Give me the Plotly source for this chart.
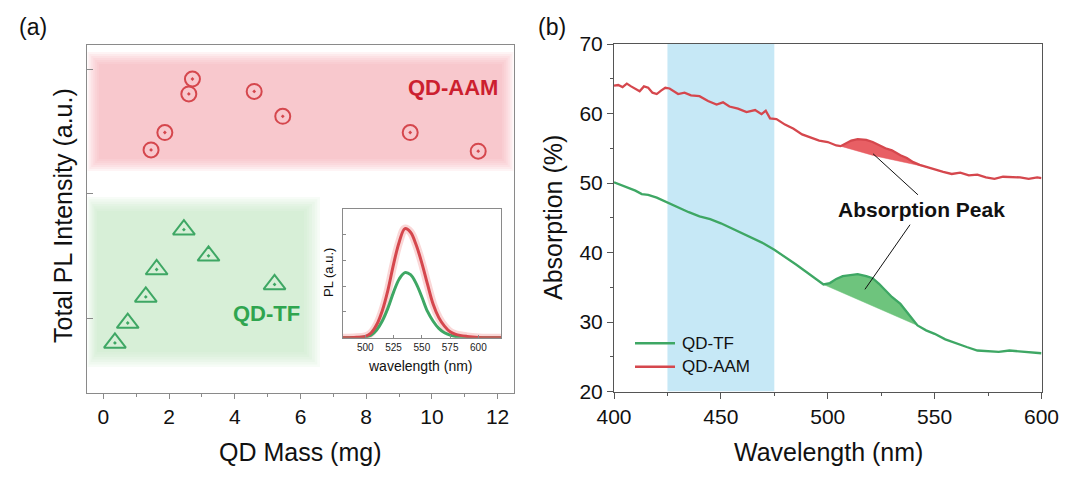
import plotly.graph_objects as go

# ---------------- data ----------------
# Panel (a): total PL intensity vs QD mass
tf_mass = [0.35, 0.74, 1.29, 1.62, 2.45, 3.20, 5.21]
tf_pl = [0.80, 0.96, 1.17, 1.39, 1.71, 1.50, 1.27]
aam_mass = [1.45, 1.87, 2.60, 2.71, 4.59, 5.46, 9.34, 11.41]
aam_pl = [2.35, 2.49, 2.80, 2.92, 2.82, 2.62, 2.49, 2.34]

# Inset: PL spectra
pl_wl = [480, 490, 500, 505, 510, 515, 520, 525, 530, 535, 540, 545, 550, 555, 560,
         565, 570, 575, 580, 590, 600, 610, 620]
pl_aam = [0.0, 0.01, 0.05, 0.18, 0.50, 1.05, 1.85, 2.86, 3.72, 4.24, 4.10, 3.60, 2.90,
          2.08, 1.30, 0.78, 0.45, 0.23, 0.13, 0.05, 0.01, 0.0, 0.0]
pl_tf = [0.0, 0.01, 0.03, 0.10, 0.30, 0.65, 1.15, 1.77, 2.28, 2.53, 2.45, 2.10, 1.58,
         1.02, 0.64, 0.36, 0.19, 0.10, 0.05, 0.01, 0.0, 0.0, 0.0]

# Panel (b): absorption spectra
aam_wl = [400, 402, 404, 406, 408, 410, 412, 414, 416, 418, 420, 422, 424, 426, 428, 430,
          433, 436, 440, 444, 448, 451, 454, 458, 462, 466, 469, 471, 473, 476, 480, 484,
          488, 492, 496, 500, 504, 506, 508, 511, 514, 518, 521, 524, 527, 530, 534, 537,
          540, 543, 546, 550, 554, 558, 562, 566, 570, 574, 578, 582, 586, 590, 594, 598, 600]
aam_abs = [64.0, 64.1, 63.8, 64.3, 63.9, 63.6, 63.2, 63.9, 63.7, 63.0, 62.8, 63.3, 63.7,
           63.6, 63.2, 62.8, 63.0, 62.6, 62.5, 61.8, 61.3, 61.6, 61.0, 60.7, 60.2, 60.5,
           59.9, 60.4, 59.3, 59.2, 58.4, 57.8, 57.0, 56.6, 56.1, 55.9, 55.4, 55.3, 55.6,
           56.1, 56.3, 56.2, 55.9, 55.4, 55.0, 54.7, 54.0, 53.6, 53.0, 52.6, 52.3, 51.9,
           51.6, 51.3, 51.5, 51.1, 51.2, 50.8, 50.6, 50.9, 50.9, 50.8, 50.6, 50.8, 50.7]
tf_wl = [400, 405, 410, 413, 416, 420, 425, 430, 435, 440, 445, 450, 455, 460, 465, 470,
         475, 480, 485, 490, 495, 498, 501, 504, 507, 510, 514, 518, 521, 524, 527, 530,
         534, 538, 542, 546, 550, 555, 560, 565, 570, 575, 580, 585, 590, 595, 600]
tf_abs = [50.1, 49.5, 48.9, 48.4, 48.3, 47.9, 47.2, 46.4, 45.8, 45.2, 44.8, 44.2, 43.5,
          42.8, 42.1, 41.3, 40.4, 39.4, 38.3, 37.2, 36.1, 35.4, 35.6, 36.2, 36.6, 36.7,
          36.9, 36.6, 36.3, 35.5, 34.6, 33.6, 32.6, 31.0, 29.5, 28.8, 28.3, 27.5, 26.9,
          26.4, 25.9, 25.8, 25.7, 25.9, 25.8, 25.6, 25.5]
# baselines beneath the absorption peaks
aam_base_wl = [546, 522, 506]
aam_base_abs = [52.3, 53.9, 55.3]
tf_base_wl = [542, 498]
tf_base_abs = [29.5, 35.4]
aam_peak_range = (506, 546)
tf_peak_range = (498, 542)
blue_band = (425, 475)

# ---------------- styles ----------------
FONT = "Liberation Sans, Arial, sans-serif"
RED = "#d5474d"
GREEN = "#3ea764"
RED_TXT = "#cc1f2f"
GREEN_TXT = "#2fa54f"
W, H = 1080, 479

fig = go.Figure()

# ---- panel (a) traces
fig.add_trace(go.Scatter(x=aam_mass, y=aam_pl, mode="markers", xaxis="x", yaxis="y",
                         marker=dict(symbol="circle-open-dot", size=15, color=RED,
                                     line=dict(width=2, color=RED)), showlegend=False))
fig.add_trace(go.Scatter(x=tf_mass, y=tf_pl, mode="markers", xaxis="x", yaxis="y",
                         marker=dict(symbol="triangle-up-open-dot", size=19, color=GREEN,
                                     line=dict(width=2, color=GREEN)), showlegend=False))

# ---- inset traces
fig.add_trace(go.Scatter(x=pl_wl, y=pl_aam, mode="lines", xaxis="x3", yaxis="y3",
                         line=dict(color="rgba(240,140,140,0.35)", width=8, shape="spline"),
                         showlegend=False, hoverinfo="skip"))
fig.add_trace(go.Scatter(x=pl_wl, y=pl_tf, mode="lines", xaxis="x3", yaxis="y3",
                         line=dict(color=GREEN, width=3, shape="spline"), showlegend=False))
fig.add_trace(go.Scatter(x=pl_wl, y=pl_aam, mode="lines", xaxis="x3", yaxis="y3",
                         line=dict(color=RED, width=3, shape="spline"), showlegend=False))

# ---- panel (b) peak fills
def peak_poly(wl, val, rng, bwl, bval):
    px = [w for w in wl if rng[0] <= w <= rng[1]]
    py = [v for w, v in zip(wl, val) if rng[0] <= w <= rng[1]]
    return px + bwl, py + bval

xr, yr = peak_poly(aam_wl, aam_abs, aam_peak_range, aam_base_wl, aam_base_abs)
fig.add_trace(go.Scatter(x=xr, y=yr, mode="lines", fill="toself", xaxis="x2", yaxis="y2",
                         fillcolor="rgb(232,95,100)", line=dict(width=0.5, color="rgb(232,95,100)"),
                         showlegend=False, hoverinfo="skip"))
xg, yg = peak_poly(tf_wl, tf_abs, tf_peak_range, tf_base_wl, tf_base_abs)
fig.add_trace(go.Scatter(x=xg, y=yg, mode="lines", fill="toself", xaxis="x2", yaxis="y2",
                         fillcolor="rgb(110,196,125)", line=dict(width=0.5, color="rgb(110,196,125)"),
                         showlegend=False, hoverinfo="skip"))

fig.add_trace(go.Scatter(x=tf_wl, y=tf_abs, mode="lines", name="QD-TF", xaxis="x2", yaxis="y2",
                         line=dict(color=GREEN, width=2.3), showlegend=False))
fig.add_trace(go.Scatter(x=aam_wl, y=aam_abs, mode="lines", name="QD-AAM", xaxis="x2", yaxis="y2",
                         line=dict(color=RED, width=2.3), showlegend=False))

# ---------------- shapes ----------------
shapes = []
# feathered background bands in panel (a) (pixel -> data helpers)
XA0, XA1, YA0, YA1 = 87, 514, 45, 393
XR = (-0.5, 12.5)
YR = (0.398, 3.193)
def ax_x(px):
    return XR[0] + (px - XA0) / (XA1 - XA0) * (XR[1] - XR[0])
def ax_y(py):
    return YR[1] - (py - YA0) / (YA1 - YA0) * (YR[1] - YR[0])

def feather(outer, inner, rgb, total_alpha, n=7):
    a = 1 - (1 - total_alpha) ** (1.0 / n)
    out = []
    for i in range(n):
        t = i / (n - 1)
        x0 = outer[0] + t * (inner[0] - outer[0])
        x1 = outer[1] + t * (inner[1] - outer[1])
        y0 = outer[2] + t * (inner[2] - outer[2])
        y1 = outer[3] + t * (inner[3] - outer[3])
        out.append(dict(type="rect", xref="x", yref="y", x0=ax_x(x0), x1=ax_x(x1),
                        y0=ax_y(y0), y1=ax_y(y1), line=dict(width=0),
                        fillcolor="rgba(%d,%d,%d,%.3f)" % (rgb + (a,)), layer="below"))
    return out

shapes += feather((87.5, 513.5, 52, 171), (99, 502, 64, 159), (245, 172, 178), 0.62)
shapes += feather((87.5, 320, 197, 367), (97, 304, 211, 352), (190, 230, 196), 0.62)

# blue band panel (b)
shapes.append(dict(type="rect", xref="x2", yref="y2", x0=blue_band[0], x1=blue_band[1],
                   y0=20, y1=70, fillcolor="rgb(198,232,246)", line=dict(width=0), layer="below"))
# annotation leader lines
shapes.append(dict(type="line", xref="x2", yref="y2", x0=521.2, y0=54.2, x1=542.2, y1=48.3,
                   line=dict(color="#111", width=1)))
shapes.append(dict(type="line", xref="x2", yref="y2", x0=538.5, y0=44.0, x1=517.4, y1=34.7,
                   line=dict(color="#111", width=1)))
# custom legend samples
shapes.append(dict(type="line", xref="paper", yref="paper", x0=635 / W, x1=675 / W,
                   y0=1 - 343.3 / H, y1=1 - 343.3 / H, line=dict(color=GREEN, width=2.5)))
shapes.append(dict(type="line", xref="paper", yref="paper", x0=635 / W, x1=675 / W,
                   y0=1 - 366.7 / H, y1=1 - 366.7 / H, line=dict(color=RED, width=2.5)))

# ---------------- annotations ----------------
def ann(text, px, py, size, color="#111", bold=False, angle=0, xanchor="center"):
    return dict(text=("<b>%s</b>" % text) if bold else text, x=px / W, y=1 - py / H,
                xref="paper", yref="paper", showarrow=False, xanchor=xanchor, yanchor="middle",
                textangle=angle, font=dict(family=FONT, size=size, color=color))

annotations = [
    ann("(a)", 33, 27, 23),
    ann("(b)", 552, 27, 23),
    ann("Total PL Intensity (a.u.)", 63, 216, 25, angle=-90),
    ann("QD Mass (mg)", 300, 452, 25),
    ann("Absorption (%)", 553, 218, 25, angle=-90),
    ann("Wavelength (nm)", 828, 452, 25),
    ann("QD-AAM", 453, 87, 22, color=RED_TXT, bold=True),
    ann("QD-TF", 266, 313, 22, color=GREEN_TXT, bold=True),
    ann("Absorption Peak", 921, 209, 21, color="#111", bold=True),
    ann("PL (a.u.)", 328, 273, 13, angle=-90),
    ann("wavelength (nm)", 420, 366, 14),
    ann("QD-TF", 680, 343.3, 17, xanchor="left"),
    ann("QD-AAM", 680, 366.7, 17, xanchor="left"),
]

# ---------------- axes ----------------
GRAY_A = "#8a8a8a"
GRAY_B = "#555555"
tickfont = dict(family=FONT, size=21, color="#111")
common = dict(showgrid=False, zeroline=False, automargin=False, showline=True, linewidth=1,
              mirror=True)

fig.update_layout(
    width=W, height=H,
    margin=dict(l=0, r=0, t=0, b=0, pad=0, autoexpand=False),
    paper_bgcolor="white", plot_bgcolor="rgba(0,0,0,0)",
    font=dict(family=FONT, color="#111"),
    showlegend=False,
    shapes=shapes,
    annotations=annotations,
    xaxis=dict(domain=[XA0 / W, XA1 / W], range=list(XR), anchor="y",
               tickmode="array", tickvals=[0, 2, 4, 6, 8, 10, 12],
               ticks="outside", ticklen=5, tickcolor=GRAY_A, tickwidth=1,
               minor=dict(tickvals=[1, 3, 5, 7, 9, 11], ticks="outside", ticklen=3,
                          tickcolor=GRAY_A),
               linecolor=GRAY_A, tickfont=tickfont, **common),
    yaxis=dict(domain=[1 - YA1 / H, 1 - YA0 / H], range=list(YR), anchor="x",
               tickmode="array", tickvals=[1, 2, 3], showticklabels=False,
               ticks="inside", ticklen=6, tickcolor=GRAY_A,
               linecolor=GRAY_A, **common),
    xaxis2=dict(domain=[614 / W, 1041.5 / W], range=[400, 600], anchor="y2",
                tickmode="array", tickvals=[400, 450, 500, 550, 600],
                ticks="outside", ticklen=6, tickcolor=GRAY_B,
                minor=dict(tickvals=[425, 475, 525, 575], ticks="outside", ticklen=3,
                           tickcolor=GRAY_B),
                linecolor=GRAY_B, tickfont=tickfont, **common),
    yaxis2=dict(domain=[1 - 391.5 / H, 1 - 44 / H], range=[20, 70], anchor="x2",
                tickmode="array", tickvals=[20, 30, 40, 50, 60, 70],
                ticks="outside", ticklen=6, tickcolor=GRAY_B,
                minor=dict(tickvals=[25, 35, 45, 55, 65], ticks="outside", ticklen=3,
                           tickcolor=GRAY_B),
                linecolor=GRAY_B, tickfont=tickfont, **common),
    xaxis3=dict(domain=[342.7 / W, 501 / W], range=[480, 620], anchor="y3",
                tickmode="array", tickvals=[500, 525, 550, 575, 600],
                ticks="inside", ticklen=3, tickcolor=GRAY_A,
                linecolor=GRAY_A,
                tickfont=dict(family=FONT, size=10, color="#222"), **common),
    yaxis3=dict(domain=[1 - 337.7 / H, 1 - 209 / H], range=[0, 5], anchor="x3",
                tickmode="array", tickvals=[1, 2, 3, 4], showticklabels=False,
                ticks="inside", ticklen=3, tickcolor=GRAY_A,
                linecolor=GRAY_A, **common),
)

fig.write_html("out.html")
